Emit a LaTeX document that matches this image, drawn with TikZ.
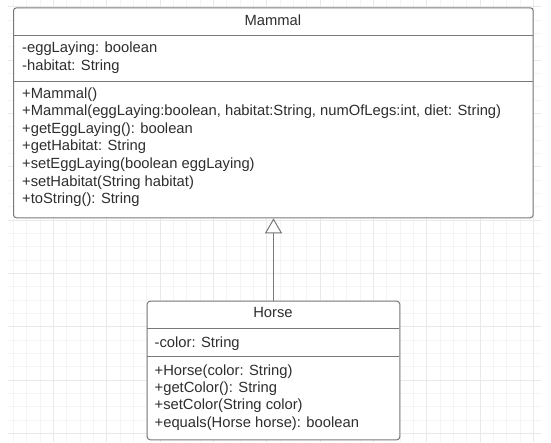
\documentclass[tikz,border=0pt]{standalone}
\usepackage{fontspec}
\setmainfont{Liberation Sans}
\usetikzlibrary{arrows.meta}
\definecolor{txt}{HTML}{2E2E2E}
\definecolor{bord}{HTML}{787878}
\definecolor{gridminor}{HTML}{F4F4F4}
\definecolor{gridmajor}{HTML}{E9E9E9}
\begin{document}
\begin{tikzpicture}[x=1pt,y=-1pt,
  classbox/.style={draw=bord, line width=1pt, rounded corners=3pt, fill=white, inner sep=0pt, anchor=north west},
  lbl/.style={anchor=base west, inner sep=0pt, text=txt, font=\fontsize{14.75}{17.6}\selectfont},
  ttl/.style={anchor=base, inner sep=0pt, text=txt, font=\fontsize{14.75}{17.6}\selectfont},
  sep/.style={draw=bord, line width=1pt},
  minorline/.style={draw=gridminor, line width=0.8pt},
  majorline/.style={draw=gridmajor, line width=0.8pt},
  inherit/.style={draw=bord, line width=1pt, -{Triangle[open, width=17pt, length=15pt, fill=white]}}]
\useasboundingbox (0,0) rectangle (551,442);
\fill[white] (0,0) rectangle (551,442);
% background grid
\foreach \k in {1,...,40} {\draw[minorline] (\k*13.3333,0) -- (\k*13.3333,442);}
\foreach \k in {0,...,32} {\draw[minorline] (8,6.6667+\k*13.3333) -- (541,6.6667+\k*13.3333);}
\foreach \k in {4,8,...,40} {\draw[majorline] (\k*13.3333,0) -- (\k*13.3333,442);}
\foreach \k in {0,4,...,32} {\draw[majorline] (8,6.6667+\k*13.3333) -- (541,6.6667+\k*13.3333);}
% Mammal class
\node[classbox, minimum width=519.7pt, minimum height=210pt] (mammal) at (13,7.3) {};
\draw[sep] (13,35) -- (532.7,35);
\draw[sep] (13,81) -- (532.7,81);
\node[ttl] (mt) at (272.85,25.3) {Mammal};
\node[lbl] (ma1) at (22,52.7) {-eggLaying: boolean};
\node[lbl] (ma2) at (22,70.3) {-habitat: String};
\node[lbl] (mm1) at (22,98) {+Mammal()};
\node[lbl] (mm2) at (22,115.6) {+Mammal(eggLaying:boolean, habitat:String, numOfLegs:int, diet: String)};
\node[lbl] (mm3) at (22,133.2) {+getEggLaying(): boolean};
\node[lbl] (mm4) at (22,150.8) {+getHabitat: String};
\node[lbl] (mm5) at (22,168.4) {+setEggLaying(boolean eggLaying)};
\node[lbl] (mm6) at (22,186) {+setHabitat(String habitat)};
\node[lbl] (mm7) at (22,203.6) {+toString(): String};
% Horse class
\node[classbox, minimum width=252.6pt, minimum height=138.6pt] (horse) at (146.7,300.7) {};
\draw[sep] (146.7,328.3) -- (399.3,328.3);
\draw[sep] (146.7,356.7) -- (399.3,356.7);
\node[ttl] (ht) at (273,317.7) {Horse};
\node[lbl] (ha1) at (154.5,347.3) {-color: String};
\node[lbl] (hm1) at (154.5,375) {+Horse(color: String)};
\node[lbl] (hm2) at (154.5,392.4) {+getColor(): String};
\node[lbl] (hm3) at (154.5,409.8) {+setColor(String color)};
\node[lbl] (hm4) at (154.5,427.2) {+equals(Horse horse): boolean};
% inheritance
\draw[inherit] (horse.north) -- (horse.north |- mammal.south);
\end{tikzpicture}
\end{document}
